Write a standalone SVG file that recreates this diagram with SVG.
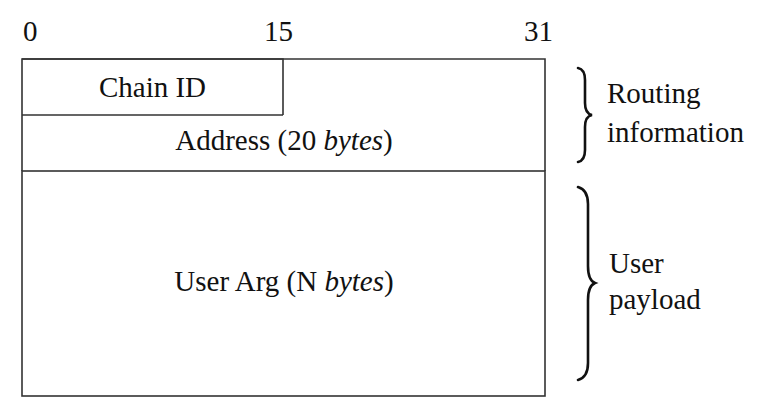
<svg xmlns="http://www.w3.org/2000/svg" width="766" height="417" viewBox="0 0 766 417">
<defs>
<path id="b1" d="M578,68 C583,69 585,73 585,80 L585,103 C585,110 587,114 592,115 C587,116 585,120 585,127 L585,150 C585,157 583,161 578,162"/>
</defs>
<rect width="766" height="417" fill="#fff"/>
<g id="bits" font-family="Liberation Serif" font-size="29" fill="#111">
<text x="23" y="41">0</text>
<text x="264" y="41">15</text>
<text x="524" y="41">31</text>
</g>
<g id="chain-id" font-family="Liberation Serif" font-size="29" fill="#111">
<path d="M22,115 V59 H283 V115" fill="none" stroke="#333" stroke-width="1.6"/>
<text text-anchor="middle" x="152.5" y="97">Chain ID</text>
</g>
<g id="address" font-family="Liberation Serif" font-size="29" fill="#111">
<path d="M22,59 H545 V171 M22,115 V171 M22,115 H283" fill="none" stroke="#333" stroke-width="1.6"/>
<text text-anchor="middle" x="284" y="150">Address (20 <tspan font-style="italic">bytes</tspan>)</text>
</g>
<g id="user-arg" font-family="Liberation Serif" font-size="29" fill="#111">
<rect x="22" y="171" width="523" height="225" fill="none" stroke="#333" stroke-width="1.6"/>
<text text-anchor="middle" x="284" y="291">User Arg (N <tspan font-style="italic">bytes</tspan>)</text>
</g>
<g id="routing" font-family="Liberation Serif" font-size="29" fill="#111">
<use href="#b1" fill="none" stroke="#111" stroke-width="2.6" stroke-linecap="round"/>
<text x="607" y="103">Routing</text>
<text x="607" y="142">information</text>
</g>
<g id="payload" font-family="Liberation Serif" font-size="29" fill="#111">
<path d="M578,187 C585,189 588,194 588,204 L588,266 C588,276 590,281 595,283 C590,285 588,290 588,300 L588,363 C588,373 585,378 578,380" fill="none" stroke="#111" stroke-width="2.6" stroke-linecap="round"/>
<text x="609" y="273">User</text>
<text x="609" y="309">payload</text>
</g>
</svg>
